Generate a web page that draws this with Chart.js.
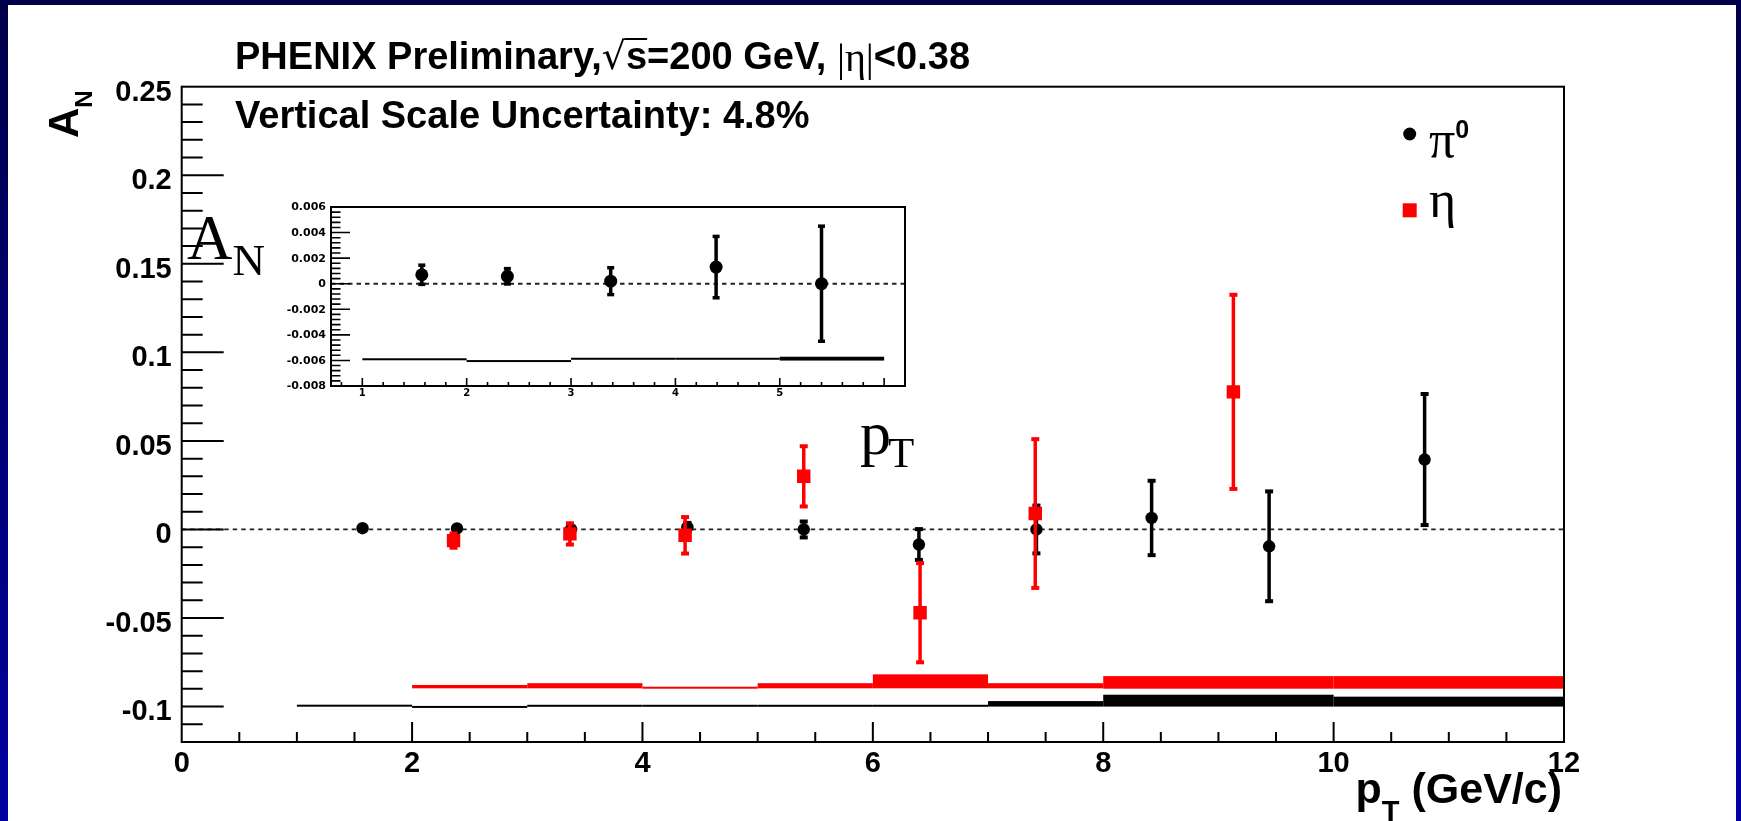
<!DOCTYPE html>
<html>
<head>
<meta charset="utf-8">
<script src="https://cdn.jsdelivr.net/npm/chart.js@4.4.1/dist/chart.umd.min.js"></script>
<style>
  html, body { margin: 0; padding: 0; width: 1741px; height: 821px; overflow: hidden; }
  body { position: relative; background: linear-gradient(to bottom, #00004a, #0000a0); }
  #sheet { position: absolute; left: 8px; top: 5px; width: 1728px; height: 816px; background: #ffffff; }
  #main { position: absolute; left: 0; top: 0; }
  #inset { position: absolute; left: 250px; top: 190px; }
</style>
</head>
<body>
<div id="sheet"></div>
<canvas id="main" width="1741" height="821"></canvas>
<canvas id="inset" width="680" height="230"></canvas>
<script>
// ---- measured asymmetries A_N vs pT ----
const pi0PT  = [1.57, 2.39, 3.38, 4.39, 5.40, 6.40, 7.42, 8.42, 9.44, 10.79];
const pi0AN  = [0.0007, 0.00058, 0.0002, 0.0013, 0.0, -0.0085, 0.0, 0.0065, -0.0095, 0.0395];
const pi0Err = [0.00075, 0.0006, 0.00105, 0.0024, 0.0045, 0.0087, 0.0135, 0.021, 0.031, 0.037];

const etaPT  = [2.36, 3.37, 4.37, 5.40, 6.41, 7.41, 9.13];
const etaAN  = [-0.0063, -0.0025, -0.0033, 0.030, -0.047, 0.009, 0.0777];
const etaErr = [0.004, 0.006, 0.0103, 0.017, 0.028, 0.042, 0.0548];

// ---- systematic uncertainty boxes (bin edges, lower and upper edge of each box) ----
const pi0SysEdges = [1, 2, 3, 4, 5, 6, 7, 8, 10, 12];
const pi0SysLow   = [-0.1000, -0.1007, -0.1000, -0.1000, -0.1000, -0.1000, -0.1000, -0.1000, -0.1000];
const pi0SysHigh  = [-0.0990, -0.0997, -0.0991, -0.0991, -0.0991, -0.0991, -0.0969, -0.0933, -0.0944];

const etaSysEdges = [2, 3, 4, 5, 6, 7, 8, 10, 12];
const etaSysLow   = [-0.0897, -0.0897, -0.0899, -0.0897, -0.0897, -0.0897, -0.0899, -0.0899];
const etaSysHigh  = [-0.0878, -0.0868, -0.0888, -0.0868, -0.0818, -0.0868, -0.0828, -0.0828];

const insetSysEdges = [1, 2, 3, 4, 5, 6];
const insetSysLow   = [-0.00598, -0.00612, -0.00594, -0.00594, -0.00601];
const insetSysHigh  = [-0.00584, -0.00598, -0.00580, -0.00580, -0.00571];

// ---- axis tick labels ----
const xTickLabels = ['0', '2', '4', '6', '8', '10', '12'];
const yTickLabels = ['-0.1', '-0.05', '0', '0.05', '0.1', '0.15', '0.2', '0.25'];
const insetXTickLabels = ['1', '2', '3', '4', '5'];
const insetYTickLabels = ['-0.008', '-0.006', '-0.004', '-0.002', '0', '0.002', '0.004', '0.006'];

const SANS = '"Liberation Sans", Arial, Helvetica, sans-serif';
const SERIF = '"Liberation Serif", "Times New Roman", serif';
const BLACK = '#000000';
const RED = '#ff0000';

function pts(xs, ys) { return xs.map((x, i) => ({ x: x, y: ys[i] })); }

// Vertical error bars with small caps, drawn right before each dataset's markers
const errorBarPlugin = {
  id: 'errorBars',
  beforeDatasetDraw(chart, args, opts) {
    const ds = chart.data.datasets[args.index];
    const errs = ds.errorBars;
    if (!errs) return;
    const { ctx, chartArea: a } = chart;
    const xs = chart.scales.x, ys = chart.scales.y;
    ctx.save();
    ctx.beginPath();
    ctx.rect(a.left, a.top, a.right - a.left, a.bottom - a.top);
    ctx.clip();
    ctx.strokeStyle = ds.backgroundColor;
    ctx.fillStyle = ds.backgroundColor;
    ctx.lineWidth = opts.lineWidth;
    ds.data.forEach((p, i) => {
      const px = xs.getPixelForValue(p.x);
      const y1 = ys.getPixelForValue(p.y + errs[i]);
      const y2 = ys.getPixelForValue(p.y - errs[i]);
      ctx.beginPath();
      ctx.moveTo(px, y1);
      ctx.lineTo(px, y2);
      ctx.stroke();
      ctx.fillRect(px - opts.capW / 2, y1 - opts.capH / 2, opts.capW, opts.capH);
      ctx.fillRect(px - opts.capW / 2, y2 - opts.capH / 2, opts.capW, opts.capH);
    });
    ctx.restore();
  }
};

// Systematic boxes and the dashed zero line, beneath the data
const bandPlugin = {
  id: 'bands',
  beforeDatasetsDraw(chart, args, opts) {
    const { ctx, chartArea: a } = chart;
    const xs = chart.scales.x, ys = chart.scales.y;
    ctx.save();
    ctx.beginPath();
    ctx.rect(a.left, a.top, a.right - a.left, a.bottom - a.top);
    ctx.clip();
    // zero line
    const y0 = ys.getPixelForValue(0);
    ctx.strokeStyle = '#222';
    ctx.lineWidth = opts.zeroWidth;
    ctx.setLineDash(opts.zeroDash);
    ctx.beginPath();
    ctx.moveTo(a.left, y0);
    ctx.lineTo(a.right, y0);
    ctx.stroke();
    ctx.setLineDash([]);
    (opts.sets || []).forEach(set => {
      ctx.fillStyle = set.color;
      for (let i = 0; i < set.low.length; i++) {
        const x1 = xs.getPixelForValue(set.edges[i]);
        const x2 = xs.getPixelForValue(set.edges[i + 1]);
        let yt = ys.getPixelForValue(set.high[i]);
        let yb = ys.getPixelForValue(set.low[i]);
        if (yb - yt < opts.minH) { const c = (yt + yb) / 2; yt = c - opts.minH / 2; yb = c + opts.minH / 2; }
        ctx.fillRect(x1, yt, x2 - x1, yb - yt);
      }
    });
    ctx.restore();
  }
};

// ROOT-style frame with inward ticks and labels
const axesPlugin = {
  id: 'rootAxes',
  afterDatasetsDraw(chart, args, o) {
    const { ctx, chartArea: a } = chart;
    const xs = chart.scales.x, ys = chart.scales.y;
    ctx.save();
    ctx.strokeStyle = BLACK;
    ctx.lineWidth = o.tickWidth;
    ctx.beginPath();
    const yi0 = Math.ceil(ys.min / o.yStep - 1e-6), yi1 = Math.floor(ys.max / o.yStep + 1e-6);
    for (let i = yi0; i <= yi1; i++) {
      const py = ys.getPixelForValue(i * o.yStep);
      if (py <= a.top + 1 || py >= a.bottom - 1) continue;
      const len = (i % o.yMajorEvery === 0) ? o.yMajorLen : o.yMinorLen;
      ctx.moveTo(a.left, py);
      ctx.lineTo(a.left + len, py);
    }
    const xi0 = Math.ceil(xs.min / o.xStep - 1e-6), xi1 = Math.floor(xs.max / o.xStep + 1e-6);
    for (let i = xi0; i <= xi1; i++) {
      const px = xs.getPixelForValue(i * o.xStep);
      if (px <= a.left + 1 || px >= a.right - 1) continue;
      const len = (i % o.xMajorEvery === 0) ? o.xMajorLen : o.xMinorLen;
      ctx.moveTo(px, a.bottom);
      ctx.lineTo(px, a.bottom - len);
    }
    ctx.stroke();
    ctx.lineWidth = o.frameWidth;
    ctx.strokeRect(a.left, a.top, a.right - a.left, a.bottom - a.top);

    ctx.fillStyle = BLACK;
    ctx.font = o.yFont;
    ctx.textAlign = 'right';
    ctx.textBaseline = o.labelBaseline;
    o.yLabels.forEach(t => {
      ctx.fillText(t, a.left - o.yLabelGap, ys.getPixelForValue(Number(t)) + o.yLabelDy);
    });
    ctx.font = o.xFont;
    ctx.textAlign = 'center';
    o.xLabels.forEach(t => {
      ctx.fillText(t, xs.getPixelForValue(Number(t)), a.bottom + o.xLabelDy);
    });
    ctx.restore();
  }
};

// draws one run of text and returns the x where the next run starts
function run(ctx, text, x, y, font) {
  ctx.font = font;
  ctx.textAlign = 'left';
  ctx.textBaseline = 'alphabetic';
  ctx.fillText(text, x, y);
  return x + ctx.measureText(text).width;
}

const textPlugin = {
  id: 'annotations',
  afterDraw(chart) {
    const ctx = chart.ctx;
    ctx.save();
    ctx.fillStyle = BLACK;
    ctx.strokeStyle = BLACK;

    // header
    const b1 = 69;
    let x = run(ctx, 'PHENIX Preliminary,', 235, b1, 'bold 38px ' + SANS);
    ctx.font = '38px "DejaVu Sans", sans-serif';
    const m = ctx.measureText('\u221A');
    const rootTop = b1 - m.actualBoundingBoxAscent;
    const rootX = x;
    x = run(ctx, '\u221A', x, b1, '38px "DejaVu Sans", sans-serif');
    ctx.font = 'bold 38px ' + SANS;
    const sW = ctx.measureText('s').width;
    ctx.lineWidth = 2;
    ctx.beginPath();
    ctx.moveTo(rootX + m.actualBoundingBoxRight - 1.5, rootTop + 1);
    ctx.lineTo(x + sW, rootTop + 1);
    ctx.stroke();
    x = run(ctx, 's=200 GeV, ', x, b1, 'bold 38px ' + SANS);
    x = run(ctx, '|\u03B7|', x, b1 + 2, '40px ' + SERIF);
    run(ctx, '<0.38', x, b1, 'bold 38px ' + SANS);
    run(ctx, 'Vertical Scale Uncertainty: 4.8%', 235, 128, 'bold 38px ' + SANS);

    // legend
    const ds = chart.data.datasets;
    ctx.fillStyle = ds[0].backgroundColor;
    ctx.beginPath();
    ctx.arc(1409.7, 134, 6.5, 0, Math.PI * 2);
    ctx.fill();
    ctx.fillStyle = ds[1].backgroundColor;
    ctx.fillRect(1402.7, 203.3, 14, 14);
    ctx.fillStyle = BLACK;
    let lx = run(ctx, '\u03C0', 1429, 157, '52px ' + SERIF);
    run(ctx, '0', lx, 138, 'bold 25px ' + SANS);
    run(ctx, '\u03B7', 1429, 217, '52px ' + SERIF);

    // large serif labels for the inset axes
    x = run(ctx, 'A', 187, 259, '63px ' + SERIF);
    run(ctx, 'N', x, 275, '45px ' + SERIF);
    x = run(ctx, 'p', 860, 454, '62px ' + SERIF);
    run(ctx, 'T', x - 3, 467, '43px ' + SERIF);

    // x-axis title, right aligned to the end of the axis
    ctx.font = 'bold 43px ' + SANS;
    const wRest = ctx.measureText(' (GeV/c)').width;
    const wp = ctx.measureText('p').width;
    ctx.font = 'bold 29px ' + SANS;
    const wT = ctx.measureText('T').width;
    const xEnd = chart.chartArea.right - 2;
    let tx = xEnd - wRest - wT - wp;
    tx = run(ctx, 'p', tx, 803, 'bold 43px ' + SANS);
    tx = run(ctx, 'T', tx, 821, 'bold 29px ' + SANS);
    run(ctx, ' (GeV/c)', tx, 803, 'bold 43px ' + SANS);

    // y-axis title, rotated
    ctx.translate(78, 138);
    ctx.rotate(-Math.PI / 2);
    const ax = run(ctx, 'A', 0, 0, 'bold 42px ' + SANS);
    run(ctx, 'N', ax, 14, 'bold 24px ' + SANS);
    ctx.restore();
  }
};

const mainChart = new Chart(document.getElementById('main'), {
  type: 'scatter',
  data: {
    datasets: [
      { label: '\u03C00', data: pts(pi0PT, pi0AN), errorBars: pi0Err,
        pointStyle: 'circle', pointRadius: 6.2, borderWidth: 0,
        backgroundColor: BLACK, borderColor: BLACK, order: 2 },
      { label: '\u03B7', data: pts(etaPT, etaAN), errorBars: etaErr,
        pointStyle: 'rect', pointRadius: 9.5, borderWidth: 0,
        backgroundColor: RED, borderColor: RED, order: 1 }
    ]
  },
  options: {
    responsive: false, animation: false, devicePixelRatio: 1, events: [],
    layout: { padding: { left: 181.7, right: 1741 - 1564, top: 86.7, bottom: 821 - 742 } },
    scales: {
      x: { type: 'linear', min: 0, max: 12, display: false },
      y: { type: 'linear', min: -0.12, max: 0.25, display: false }
    },
    plugins: {
      legend: { display: false }, tooltip: { enabled: false },
      errorBars: { lineWidth: 3.5, capW: 8, capH: 4 },
      bands: {
        zeroWidth: 1.8, zeroDash: [4.5, 4], minH: 2,
        sets: [
          { edges: etaSysEdges, low: etaSysLow, high: etaSysHigh, color: RED },
          { edges: pi0SysEdges, low: pi0SysLow, high: pi0SysHigh, color: BLACK }
        ]
      },
      rootAxes: {
        tickWidth: 2, frameWidth: 2,
        yStep: 0.01, yMajorEvery: 5, yMajorLen: 42, yMinorLen: 21,
        xStep: 0.5, xMajorEvery: 4, xMajorLen: 20, xMinorLen: 10,
        yFont: 'bold 29px ' + SANS, xFont: 'bold 29px ' + SANS,
        labelBaseline: 'alphabetic',
        yLabels: yTickLabels, xLabels: xTickLabels,
        yLabelGap: 10, yLabelDy: 13.9, xLabelDy: 30
      }
    }
  },
  plugins: [bandPlugin, errorBarPlugin, axesPlugin, textPlugin]
});

const insetChart = new Chart(document.getElementById('inset'), {
  type: 'scatter',
  data: {
    datasets: [
      { label: '\u03C00', data: pts(pi0PT, pi0AN), errorBars: pi0Err,
        pointStyle: 'circle', pointRadius: 6.5, borderWidth: 0,
        backgroundColor: BLACK, borderColor: BLACK }
    ]
  },
  options: {
    responsive: false, animation: false, devicePixelRatio: 1, events: [],
    layout: { padding: { left: 81, right: 25, top: 17, bottom: 34 } },
    scales: {
      x: { type: 'linear', min: 0.7, max: 6.2, display: false },
      y: { type: 'linear', min: -0.008, max: 0.006, display: false }
    },
    plugins: {
      legend: { display: false }, tooltip: { enabled: false },
      errorBars: { lineWidth: 3.5, capW: 7, capH: 3.5 },
      bands: {
        zeroWidth: 2, zeroDash: [4.5, 4], minH: 2,
        sets: [ { edges: insetSysEdges, low: insetSysLow, high: insetSysHigh, color: BLACK } ]
      },
      rootAxes: {
        tickWidth: 1.6, frameWidth: 2,
        yStep: 0.0004, yMajorEvery: 5, yMajorLen: 19, yMinorLen: 9.5,
        xStep: 0.2, xMajorEvery: 5, xMajorLen: 8, xMinorLen: 4,
        yFont: 'bold 11px "DejaVu Sans", sans-serif', xFont: 'bold 10px "DejaVu Sans", sans-serif',
        labelBaseline: 'middle',
        yLabels: insetYTickLabels, xLabels: insetXTickLabels,
        yLabelGap: 5, yLabelDy: 0.5, xLabelDy: 7
      }
    }
  },
  plugins: [bandPlugin, errorBarPlugin, axesPlugin]
});
</script>
</body>
</html>
